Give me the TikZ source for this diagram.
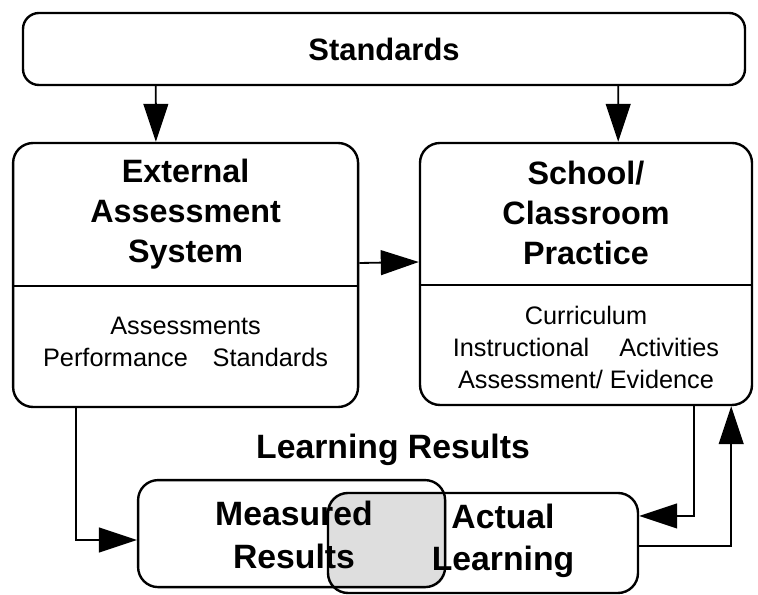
\documentclass[tikz,border=0pt]{standalone}
\usepackage{fontspec}
\setmainfont{Liberation Sans}
\usetikzlibrary{arrows.meta, backgrounds}

\begin{document}
\begin{tikzpicture}[
        box/.style={rectangle, rounded corners=0.5cm, draw=black, line width=1.7pt},
        head/.style={align=center, font=\bfseries\fontsize{23}{28.5}\selectfont},
        body/.style={align=center, font=\fontsize{18}{22.8}\selectfont},
        result/.style={align=center, font=\bfseries\fontsize{24}{30}\selectfont},
        arrow/.style={-{Triangle[length=0.95cm, width=0.62cm]}, line width=1.3pt}
    ]
        \useasboundingbox (0,0) rectangle (18.95,-14.875);

        % Boxes
        \node[box, rounded corners=0.4cm, minimum width=18.05cm, minimum height=1.8cm, font=\bfseries\fontsize{22}{26}\selectfont] (std) at (9.6,-1.225) {Standards};
        \node[box, minimum width=8.625cm, minimum height=6.6cm] (ext) at (4.64,-6.875) {};
        \node[box, minimum width=8.3cm, minimum height=6.55cm] (sch) at (14.65,-6.85) {};
        \node[box, minimum width=7.675cm, minimum height=2.675cm] (meas) at (7.29,-13.34) {};
        \node[box, minimum width=7.75cm, minimum height=2.5cm] (act) at (12.075,-13.575) {};

        % Overlap of the two results
        \begin{scope}[on background layer]
            \clip[rounded corners=0.5cm] (meas.south west) rectangle (meas.north east);
            \fill[black!13, rounded corners=0.5cm] (act.south west) rectangle (act.north east);
        \end{scope}

        % Dividers
        \draw[line width=1.7pt] ([yshift=-0.275cm]ext.west) -- ([yshift=-0.275cm]ext.east);
        \draw[line width=1.7pt] ([yshift=-0.275cm]sch.west) -- ([yshift=-0.275cm]sch.east);

        % Texts
        \node[head] (exthead) at (4.64,-5.35) {External\\Assessment\\System};
        \node[body] (extbody) at (4.64,-8.55) {Assessments\\Performance\hspace{0.62cm}Standards};
        \node[head] (schhead) at (14.65,-5.33) {School/\\Classroom\\Practice};
        \node[body] (schbody) at (14.65,-8.68) {Curriculum\\Instructional\hspace{0.75cm}Activities\\Assessment/ Evidence};
        \node[result] (learn) at (9.825,-11.25) {Learning Results};
        \node[result] (meastext) at (7.35,-13.375) {Measured\\Results};
        \node[result] (acttext) at (12.575,-13.525) {Actual\\Learning};

        % Arrows
        \draw[arrow] ([xshift=3.35cm]std.south west) -- ([xshift=3.6cm]ext.north west);
        \draw[arrow] ([xshift=-3.2cm]std.south east) -- ([xshift=-3.375cm]sch.north east);
        \draw[arrow] ([yshift=0.3cm]ext.east) -- ([yshift=0.3cm]sch.west);
        \draw[arrow] ([xshift=1.6cm]ext.south west) |- ([yshift=-0.16cm]meas.west);
        \draw[arrow] ([xshift=-1.475cm]sch.south east) |- ([yshift=0.675cm]act.east);
        \draw[arrow] ([yshift=-0.075cm]act.east) -| ([xshift=-0.55cm]sch.south east);
    \end{tikzpicture}
\end{document}
